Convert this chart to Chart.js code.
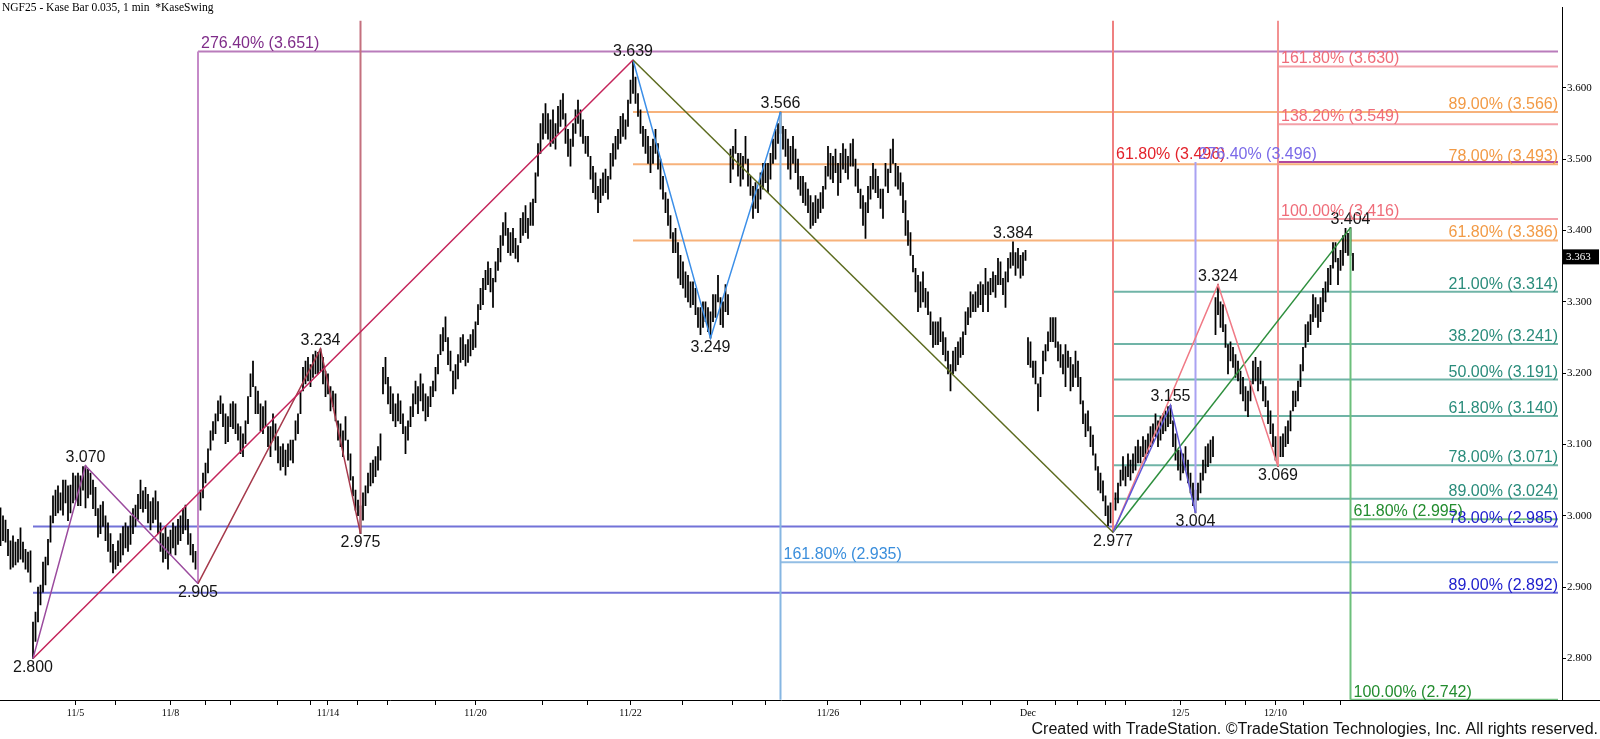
<!DOCTYPE html>
<html>
<head>
<meta charset="utf-8">
<script src="https://cdn.jsdelivr.net/npm/chart.js@4.4.1/dist/chart.umd.min.js"></script>
<style>
  html, body { margin: 0; padding: 0; background: #fff; }
  #wrap { width: 1600px; height: 739px; }
</style>
</head>
<body>
<div id="wrap"><canvas id="chart" width="1600" height="739"></canvas></div>
<script>
// Kase bars (high / low), one per bar index
const hi = [
  3.011,3.000,2.994,2.981,2.965,2.972,2.963,2.967,2.983,2.963,
  2.953,2.949,2.951,2.851,2.865,2.900,2.903,2.935,2.942,2.967,
  3.000,3.028,3.036,3.042,3.032,3.050,3.050,3.042,3.043,3.060,
  3.056,3.060,3.056,3.069,3.070,3.065,3.060,3.050,3.040,3.010,
  3.015,3.020,3.000,2.990,2.975,2.960,2.950,2.965,2.975,2.985,
  2.990,2.985,3.000,3.010,3.015,3.030,3.050,3.035,3.040,3.030,
  3.020,3.025,3.035,3.020,2.990,2.975,2.985,2.970,2.980,2.990,
  2.985,2.995,3.000,3.010,3.015,2.995,2.975,2.960,2.950,2.940,
  3.036,3.060,3.074,3.094,3.119,3.132,3.143,3.161,3.168,3.157,
  3.143,3.139,3.157,3.160,3.157,3.129,3.125,3.115,3.133,3.167,
  3.199,3.217,3.181,3.175,3.157,3.153,3.161,3.125,3.125,3.143,
  3.129,3.111,3.097,3.101,3.092,3.101,3.106,3.106,3.133,3.143,
  3.175,3.208,3.217,3.222,3.212,3.226,3.231,3.229,3.234,3.222,
  3.203,3.199,3.181,3.175,3.171,3.133,3.129,3.119,3.139,3.106,
  3.087,3.055,3.036,3.022,3.014,3.032,3.042,3.060,3.074,3.078,
  3.083,3.097,3.115,3.208,3.222,3.194,3.181,3.171,3.157,3.171,
  3.161,3.143,3.125,3.133,3.153,3.171,3.189,3.181,3.199,3.185,
  3.171,3.167,3.181,3.189,3.208,3.226,3.254,3.264,3.279,3.250,
  3.231,3.203,3.212,3.226,3.250,3.254,3.240,3.247,3.254,3.261,
  3.272,3.296,3.319,3.333,3.344,3.356,3.347,3.333,3.356,3.375,
  3.393,3.411,3.425,3.403,3.397,3.403,3.389,3.379,3.417,3.425,
  3.435,3.417,3.439,3.444,3.481,3.522,3.550,3.564,3.578,3.564,
  3.555,3.569,3.550,3.574,3.583,3.592,3.564,3.542,3.528,3.550,
  3.569,3.583,3.569,3.555,3.532,3.532,3.504,3.490,3.481,3.462,
  3.472,3.481,3.486,3.476,3.508,3.522,3.532,3.542,3.560,3.564,
  3.555,3.583,3.611,3.639,3.615,3.592,3.569,3.546,3.542,3.532,
  3.518,3.528,3.542,3.522,3.500,3.476,3.453,3.444,3.421,3.397,
  3.403,3.383,3.365,3.356,3.342,3.337,3.328,3.328,3.319,3.292,
  3.292,3.300,3.300,3.292,3.286,3.310,3.310,3.337,3.306,3.300,
  3.324,3.310,3.514,3.518,3.542,3.508,3.508,3.504,3.532,3.500,
  3.476,3.462,3.467,3.458,3.481,3.494,3.494,3.494,3.508,3.528,
  3.542,3.550,3.566,3.546,3.542,3.528,3.518,3.532,3.514,3.500,
  3.476,3.476,3.467,3.458,3.449,3.439,3.449,3.444,3.453,3.462,
  3.490,3.518,3.508,3.504,3.514,3.494,3.508,3.522,3.514,3.504,
  3.522,3.528,3.500,3.486,3.458,3.449,3.439,3.462,3.476,3.494,
  3.486,3.476,3.458,3.458,3.494,3.486,3.514,3.528,3.494,3.490,
  3.481,3.467,3.442,3.414,3.397,3.365,3.347,3.337,3.328,3.342,
  3.319,3.314,3.286,3.272,3.272,3.272,3.278,3.258,3.250,3.231,
  3.212,3.231,3.236,3.244,3.250,3.258,3.286,3.292,3.314,3.310,
  3.314,3.324,3.328,3.324,3.347,3.328,3.333,3.342,3.337,3.361,
  3.356,3.333,3.342,3.361,3.369,3.384,3.369,3.375,3.365,3.369,
  3.372,3.250,3.244,3.217,3.217,3.185,3.194,3.231,3.240,3.258,
  3.278,3.278,3.278,3.244,3.240,3.226,3.240,3.231,3.222,3.212,
  3.231,3.217,3.194,3.161,3.143,3.147,3.125,3.113,3.087,3.069,
  3.060,3.049,3.028,3.014,3.018,3.011,3.032,3.046,3.064,3.083,
  3.069,3.087,3.078,3.087,3.097,3.106,3.097,3.111,3.106,3.115,
  3.125,3.129,3.143,3.133,3.139,3.143,3.147,3.153,3.155,3.133,
  3.115,3.092,3.092,3.087,3.097,3.078,3.060,3.046,3.036,3.046,
  3.060,3.078,3.097,3.101,3.106,3.111,3.306,3.324,3.300,3.296,
  3.268,3.240,3.244,3.236,3.226,3.217,3.203,3.194,3.181,3.175,
  3.189,3.217,3.222,3.208,3.217,3.189,3.181,3.161,3.147,3.129,
  3.111,3.097,3.111,3.115,3.125,3.133,3.147,3.175,3.175,3.189,
  3.212,3.236,3.268,3.272,3.282,3.310,3.306,3.296,3.306,3.319,
  3.328,3.347,3.351,3.383,3.383,3.361,3.372,3.393,3.403,3.396,
  3.404,3.368
];
const lo = [
  2.958,2.965,2.963,2.944,2.925,2.928,2.931,2.935,2.939,2.935,
  2.925,2.921,2.907,2.800,2.824,2.851,2.875,2.893,2.903,2.931,
  2.963,2.990,3.000,3.004,3.008,3.001,3.018,2.993,3.004,3.018,
  3.022,3.014,3.014,3.036,3.011,3.025,3.030,3.010,3.000,2.970,
  2.975,2.985,2.965,2.950,2.935,2.920,2.925,2.930,2.935,2.945,
  2.955,2.950,2.960,2.975,2.985,2.995,3.010,3.005,3.010,2.990,
  2.980,2.990,2.995,2.975,2.950,2.935,2.940,2.925,2.945,2.955,
  2.945,2.960,2.965,2.975,2.980,2.960,2.945,2.935,2.925,2.905,
  3.008,3.025,3.046,3.060,3.092,3.106,3.115,3.133,3.143,3.125,
  3.101,3.104,3.125,3.122,3.115,3.106,3.087,3.083,3.101,3.129,
  3.167,3.181,3.143,3.143,3.119,3.115,3.125,3.097,3.083,3.106,
  3.092,3.074,3.064,3.069,3.057,3.069,3.078,3.074,3.106,3.115,
  3.143,3.175,3.185,3.189,3.181,3.194,3.199,3.199,3.203,3.185,
  3.167,3.171,3.147,3.153,3.133,3.106,3.097,3.083,3.106,3.078,
  3.050,3.028,3.008,3.000,2.975,2.994,3.014,3.032,3.042,3.046,
  3.055,3.064,3.078,3.171,3.185,3.157,3.143,3.133,3.125,3.133,
  3.129,3.115,3.087,3.106,3.125,3.139,3.157,3.143,3.161,3.147,
  3.133,3.139,3.153,3.167,3.175,3.199,3.226,3.231,3.244,3.212,
  3.203,3.171,3.178,3.192,3.215,3.219,3.210,3.215,3.224,3.233,
  3.236,3.268,3.289,3.296,3.317,3.324,3.314,3.292,3.328,3.344,
  3.356,3.379,3.393,3.369,3.365,3.369,3.361,3.356,3.383,3.393,
  3.397,3.389,3.407,3.407,3.439,3.476,3.508,3.528,3.536,3.528,
  3.518,3.522,3.514,3.536,3.546,3.556,3.522,3.504,3.490,3.518,
  3.536,3.550,3.532,3.522,3.508,3.504,3.472,3.453,3.444,3.425,
  3.439,3.449,3.453,3.444,3.472,3.490,3.500,3.514,3.522,3.532,
  3.528,3.546,3.578,3.592,3.578,3.560,3.536,3.518,3.508,3.494,
  3.481,3.494,3.508,3.486,3.458,3.444,3.425,3.407,3.389,3.369,
  3.369,3.333,3.324,3.319,3.306,3.300,3.292,3.296,3.282,3.264,
  3.254,3.264,3.272,3.258,3.249,3.272,3.278,3.300,3.268,3.264,
  3.286,3.282,3.467,3.486,3.508,3.476,3.462,3.472,3.494,3.462,
  3.449,3.417,3.431,3.425,3.444,3.458,3.467,3.453,3.472,3.494,
  3.500,3.522,3.536,3.514,3.504,3.486,3.472,3.494,3.481,3.458,
  3.449,3.439,3.435,3.425,3.403,3.407,3.411,3.417,3.425,3.431,
  3.458,3.476,3.472,3.467,3.481,3.449,3.467,3.486,3.481,3.472,
  3.490,3.490,3.462,3.453,3.431,3.407,3.389,3.425,3.444,3.458,
  3.453,3.446,3.431,3.417,3.462,3.453,3.481,3.494,3.462,3.458,
  3.449,3.425,3.393,3.379,3.365,3.342,3.314,3.286,3.292,3.300,
  3.292,3.282,3.254,3.236,3.240,3.240,3.244,3.226,3.217,3.199,
  3.175,3.199,3.203,3.212,3.222,3.226,3.254,3.268,3.278,3.286,
  3.286,3.292,3.296,3.286,3.310,3.286,3.310,3.314,3.306,3.324,
  3.324,3.310,3.292,3.328,3.347,3.351,3.337,3.347,3.333,3.337,
  3.358,3.212,3.208,3.194,3.185,3.147,3.167,3.199,3.217,3.231,
  3.244,3.244,3.236,3.217,3.208,3.199,3.181,3.208,3.175,3.181,
  3.194,3.181,3.157,3.129,3.111,3.119,3.097,3.085,3.064,3.036,
  3.032,3.021,3.000,2.986,2.990,2.977,3.008,3.018,3.042,3.050,
  3.042,3.055,3.050,3.060,3.064,3.074,3.074,3.083,3.078,3.087,
  3.097,3.101,3.111,3.097,3.106,3.115,3.119,3.125,3.129,3.097,
  3.078,3.064,3.050,3.060,3.064,3.046,3.032,3.014,3.004,3.022,
  3.032,3.050,3.060,3.069,3.074,3.083,3.254,3.282,3.264,3.258,
  3.236,3.199,3.217,3.208,3.194,3.189,3.171,3.161,3.147,3.139,
  3.161,3.185,3.189,3.175,3.185,3.161,3.153,3.129,3.115,3.097,
  3.078,3.069,3.083,3.083,3.097,3.101,3.119,3.147,3.153,3.161,
  3.181,3.203,3.236,3.244,3.254,3.272,3.278,3.264,3.272,3.286,
  3.300,3.314,3.324,3.347,3.356,3.324,3.344,3.351,3.369,3.365,
  3.365,3.344
];
const lastPrice = 3.363;

// KaseSwing pivots (bar index, price)
const swingIdx = [13, 34, 79, 128, 144, 253, 284, 312, 405, 445, 468, 478, 487, 511, 540];
const swingVal = [2.800, 3.070, 2.905, 3.234, 2.975, 3.639, 3.249, 3.566, 3.384, 2.977, 3.155, 3.004, 3.324, 3.069, 3.404];

// fib / projection levels
const purpleLevels = [3.651];               const purplePcts = ['276.40%'];
const blueLevels = [2.985, 2.892];          const bluePcts = ['78.00%', '89.00%'];
const orangeLevels = [3.566, 3.493, 3.386]; const orangePcts = ['89.00%', '78.00%', '61.80%'];
const skyLevels = [2.935];                  const skyPcts = ['161.80%'];
const tealLevels = [3.314, 3.241, 3.191, 3.140, 3.071, 3.024];
const tealPcts = ['21.00%', '38.20%', '50.00%', '61.80%', '78.00%', '89.00%'];
const redLevels = [3.496];                  const redPcts = ['61.80%'];
const lilacLevels = [3.496];                const lilacPcts = ['276.40%'];
const pinkLevels = [3.630, 3.549, 3.416];   const pinkPcts = ['161.80%', '138.20%', '100.00%'];
const greenLevels = [2.995, 2.742];         const greenPcts = ['61.80%', '100.00%'];

// axis ticks
const yTicks = [2.8, 2.9, 3.0, 3.1, 3.2, 3.3, 3.4, 3.5, 3.6];
const dateTicks = [30, 68, 131, 190, 252, 331, 411, 472, 510];
const dateLabels = ['11/5', '11/8', '11/14', '11/20', '11/22', '11/26', 'Dec', '12/5', '12/10'];
const minorTicks = [46, 82, 92, 111, 124, 143, 155, 174, 217, 235, 273, 293, 306, 344, 360, 368, 385, 396, 422, 431, 442, 450, 490, 498, 521, 536];

var END = 623;     // right end of the study lines
var TOP = 3.694;
var FLOOR = 2.742;

var SANS = '"Liberation Sans", Arial, sans-serif';
var SERIF = '"Liberation Serif", "Times New Roman", serif';

function seg(x0, y0, x1, y1, color, width, order) {
    return {
        type: 'line',
        data: [{ x: x0, y: y0 }, { x: x1, y: y1 }],
        borderColor: color,
        borderWidth: width,
        pointRadius: 0,
        fill: false,
        tension: 0,
        order: order
    };
}

function swingLine(ks, color) {
    return {
        type: 'line',
        data: ks.map(function (k) { return { x: swingIdx[k], y: swingVal[k] }; }),
        borderColor: color,
        borderWidth: 1.5,
        pointRadius: 0,
        fill: false,
        tension: 0,
        order: 0
    };
}

var fibGroups = [
    { start: 79, lineFrom: 79, levels: purpleLevels, pcts: purplePcts, line: '#B97CBB', text: '#7F2C89', align: 'left' },
    { start: 13, lineFrom: 13, levels: blueLevels, pcts: bluePcts, line: '#7272D8', text: '#1C1CCC', align: 'right' },
    { start: 253, lineFrom: 253, levels: orangeLevels, pcts: orangePcts, line: '#F7B27B', text: '#F29A45', align: 'right' },
    { start: 312, lineFrom: 312, levels: skyLevels, pcts: skyPcts, line: '#93BEE4', text: '#3A8EDC', align: 'left' },
    { start: 445, lineFrom: 445, levels: tealLevels, pcts: tealPcts, line: '#70B4A7', text: '#2A8C7B', align: 'right' },
    { start: 445, lineFrom: null, levels: redLevels, pcts: redPcts, line: null, text: '#E3222B', align: 'left' },
    { start: 478, lineFrom: 511, levels: lilacLevels, pcts: lilacPcts, line: '#B0489E', text: '#7A6AE8', align: 'left' },
    { start: 511, lineFrom: 511, levels: pinkLevels, pcts: pinkPcts, line: '#F3A1A9', text: '#EF6C79', align: 'left' },
    { start: 540, lineFrom: 540, levels: greenLevels, pcts: greenPcts, line: '#78C184', text: '#238C2F', align: 'left' }
];

var datasets = [];

// price bars
datasets.push({
    type: 'bar',
    data: hi.map(function (h, i) { return { x: i, y: [lo[i], h] }; }),
    backgroundColor: '#000',
    barThickness: 1.1,
    order: 10
});

// horizontal study lines
fibGroups.forEach(function (g) {
    if (!g.line) return;
    g.levels.forEach(function (v) {
        datasets.push(seg(g.lineFrom, v, END, v, g.line, 2, 20));
    });
});

// vertical study lines
datasets.push(seg(79, 2.905, 79, 3.651, '#C58AC8', 2, 5));
datasets.push(seg(144, 2.975, 144, TOP, '#C4707E', 2, 5));
datasets.push(seg(312, 3.566, 312, FLOOR, '#86B6E2', 2, 5));
datasets.push(seg(445, 2.977, 445, TOP, '#EF8080', 2, 5));
datasets.push(seg(478, 3.004, 478, 3.496, '#A9A2F2', 2, 5));
datasets.push(seg(511, 3.069, 511, TOP, '#F39292', 2, 5));
datasets.push(seg(540, 3.404, 540, FLOOR, '#6CBF7B', 2, 5));

// swing lines
datasets.push(swingLine([0, 1, 2], '#9B4B9E'));
datasets.push(swingLine([0, 5], '#C4245A'));
datasets.push(swingLine([2, 3, 4], '#A63A4C'));
datasets.push(swingLine([5, 9], '#5C6B1F'));
datasets.push(swingLine([5, 6, 7], '#3C8FE8'));
datasets.push(swingLine([9, 10, 11], '#6258D8'));
datasets.push(swingLine([9, 12, 13], '#F07A86'));
datasets.push(swingLine([9, 14], '#2C8E3C'));

var textPlugin = {
    id: 'studyText',
    afterDatasetsDraw: function (chart) {
        var ctx = chart.ctx, x = chart.scales.x, y = chart.scales.y;
        ctx.save();
        ctx.font = '16px ' + SANS;
        // swing values
        ctx.fillStyle = '#151515';
        ctx.textAlign = 'center';
        swingIdx.forEach(function (idx, k) {
            var v = swingVal[k];
            var isHigh = Math.abs(hi[idx] - v) < 0.0005;
            ctx.textBaseline = isHigh ? 'alphabetic' : 'top';
            ctx.fillText(v.toFixed(3), x.getPixelForValue(idx), y.getPixelForValue(v) + (isHigh ? -4 : 1));
        });
        // level labels
        ctx.textBaseline = 'alphabetic';
        fibGroups.forEach(function (g) {
            ctx.fillStyle = g.text;
            ctx.textAlign = g.align;
            g.levels.forEach(function (v, k) {
                var label = g.pcts[k] + ' (' + v.toFixed(3) + ')';
                var px = g.align === 'right' ? x.getPixelForValue(END) : x.getPixelForValue(g.start) + 3;
                ctx.fillText(label, px, y.getPixelForValue(v) - 3);
            });
        });
        ctx.restore();
    },
    afterDraw: function (chart) {
        var ctx = chart.ctx, y = chart.scales.y, area = chart.chartArea;
        ctx.save();
        // axis line runs to the page edge
        ctx.strokeStyle = '#000';
        ctx.lineWidth = 1;
        ctx.beginPath();
        ctx.moveTo(area.right, area.bottom + 0.5);
        ctx.lineTo(1600, area.bottom + 0.5);
        ctx.stroke();
        // last price box
        var py = y.getPixelForValue(lastPrice);
        ctx.fillStyle = '#000';
        ctx.fillRect(area.right + 1, py - 7.5, 36, 15);
        ctx.fillStyle = '#fff';
        ctx.font = '11px ' + SERIF;
        ctx.textAlign = 'left';
        ctx.textBaseline = 'middle';
        ctx.fillText(lastPrice.toFixed(3), area.right + 4, py + 0.5);
        // title
        ctx.fillStyle = '#000';
        ctx.font = '11.5px ' + SERIF;
        ctx.textBaseline = 'top';
        ctx.fillText('NGF25 - Kase Bar 0.035, 1 min  *KaseSwing', 2, 2);
        // footer
        ctx.fillStyle = '#111';
        ctx.font = '16px ' + SANS;
        ctx.textAlign = 'right';
        ctx.textBaseline = 'alphabetic';
        ctx.fillText('Created with TradeStation. \u00A9TradeStation Technologies, Inc. All rights reserved.', 1598, 734);
        ctx.restore();
    }
};

var allXTicks = dateTicks.concat(minorTicks).sort(function (a, b) { return a - b; });

new Chart(document.getElementById('chart').getContext('2d'), {
    type: 'bar',
    data: { datasets: datasets },
    options: {
        responsive: false,
        devicePixelRatio: 1,
        animation: false,
        events: [],
        layout: { padding: 0 },
        plugins: { legend: { display: false }, tooltip: { enabled: false } },
        scales: {
            x: {
                type: 'linear',
                position: 'bottom',
                min: -0.2,
                max: 624.6,
                offset: false,
                afterBuildTicks: function (axis) {
                    axis.ticks = allXTicks.map(function (v) { return { value: v }; });
                },
                afterFit: function (axis) { axis.height = 39; },
                ticks: {
                    autoSkip: false,
                    maxRotation: 0,
                    padding: 2,
                    color: '#000',
                    font: { family: SERIF, size: 10 },
                    callback: function (v) {
                        var k = dateTicks.indexOf(v);
                        return k >= 0 ? dateLabels[k] : '';
                    }
                },
                grid: { offset: false, drawOnChartArea: false, drawTicks: true, tickLength: 5, color: '#000' },
                border: { color: '#000', width: 1 }
            },
            y: {
                position: 'right',
                min: 2.7417,
                max: 3.7125,
                afterBuildTicks: function (axis) {
                    axis.ticks = yTicks.map(function (v) { return { value: v }; });
                },
                afterFit: function (axis) { axis.width = 38; },
                ticks: {
                    padding: 1,
                    color: '#000',
                    font: { family: SERIF, size: 11 },
                    callback: function (v) { return v.toFixed(3); }
                },
                grid: { drawOnChartArea: false, drawTicks: true, tickLength: 4, color: '#000' },
                border: { color: '#000', width: 1 }
            }
        }
    },
    plugins: [textPlugin]
});
</script>
</body>
</html>
